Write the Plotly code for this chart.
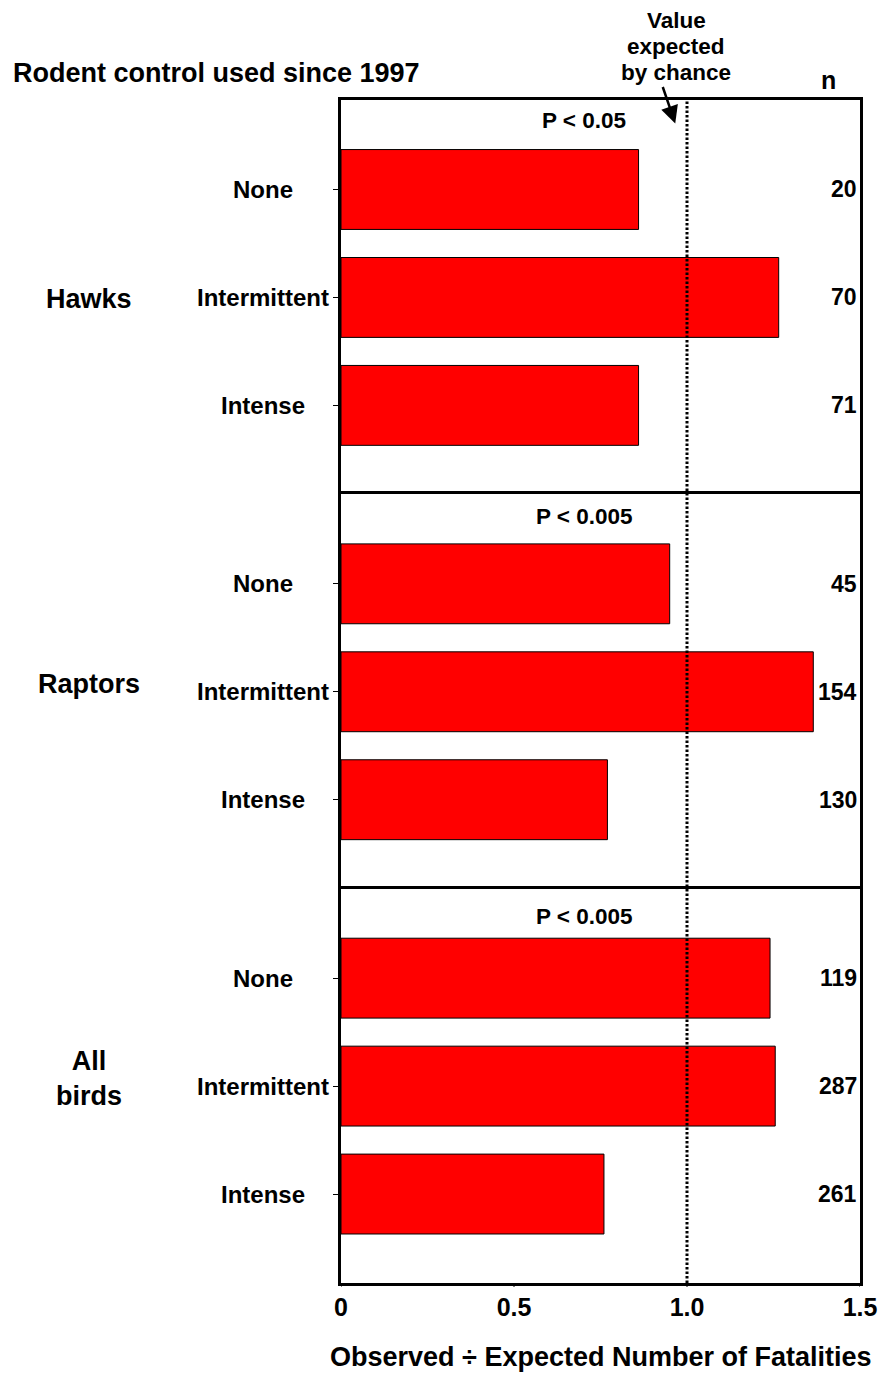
import plotly.graph_objects as go
from plotly.subplots import make_subplots

categories = ["None", "Intermittent", "Intense"]
groups = ["Hawks", "Raptors", "All<br>birds"]
p_labels = ["P < 0.05", "P < 0.005", "P < 0.005"]
hawks_ratio = [0.86, 1.265, 0.86]
raptors_ratio = [0.95, 1.365, 0.77]
allbirds_ratio = [1.24, 1.255, 0.76]
hawks_n = [20, 70, 71]
raptors_n = [45, 154, 130]
allbirds_n = [119, 287, 261]
x_tickvals = [0, 0.5, 1.0, 1.5]
x_ticktext = ["0", "0.5", "1.0", "1.5"]
expected_value = 1.0

values = [hawks_ratio, raptors_ratio, allbirds_ratio]
ns = [hawks_n, raptors_n, allbirds_n]

FONT = "Liberation Sans, Arial, sans-serif"
OFF = 8  # page body margin
W, H = 889 - OFF, 1373 - OFF
L, T = 340.5 - OFF, 99.5 - OFF
R = W - (863 - OFF)
B = H - (1283 - OFF)
pw = W - L - R
ph = H - T - B


def px_x(page_px):
    return (page_px - OFF - L) / pw


def px_y(page_py):
    return (H - B - (page_py - OFF)) / ph


def bold(size):
    return dict(family=FONT, size=size, color="black", weight="bold")


fig = make_subplots(rows=3, cols=1, shared_xaxes=True, vertical_spacing=0)

p_offsets = [21, 22, 28]
group_yshift = [-2, 8, 8]
for i in range(3):
    row = i + 1
    fig.add_trace(go.Bar(
        x=values[i], y=categories, orientation="h",
        marker=dict(color="#FF0000", line=dict(color="black", width=1)),
        width=0.74, showlegend=False, hoverinfo="x+y"
    ), row=row, col=1)
    yref = "y" if i == 0 else f"y{row}"
    fig.update_yaxes(
        row=row, col=1, type="category", range=[2.824, -0.829],
        showticklabels=False, ticks="outside", ticklen=5, tickwidth=1,
        tickcolor="black", showline=True, linecolor="black", linewidth=3,
        mirror=True, showgrid=False, zeroline=False
    )
    for j, c in enumerate(categories):
        fig.add_annotation(x=px_x(262), xref="paper", y=c, yref=yref,
                           text=c, showarrow=False, xanchor="center",
                           font=bold(24))
        fig.add_annotation(x=px_x(862), xref="paper", y=c, yref=yref,
                           text=str(ns[i][j]), showarrow=False, xanchor="right",
                           font=bold(23))
    fig.add_annotation(x=px_x(87), xref="paper", y=categories[1], yref=yref,
                       text=groups[i], showarrow=False, xanchor="center",
                       yshift=group_yshift[i], font=bold(27))
    fig.add_annotation(x=px_x(585.5), xref="paper",
                       y=1 - p_offsets[i] / (ph / 3), yref=f"{yref} domain",
                       text=p_labels[i], showarrow=False, xanchor="center",
                       yanchor="middle", font=bold(22.5))

fig.update_xaxes(range=[0, 1.5], showgrid=False, zeroline=False, showline=True,
                 linecolor="black", linewidth=3,
                 tickvals=x_tickvals, ticktext=x_ticktext)
# one line per panel boundary: upper panels draw only their top edge
fig.update_xaxes(row=1, col=1, side="top", mirror=False, ticks="", showticklabels=False)
fig.update_xaxes(row=2, col=1, side="top", mirror=False, ticks="", showticklabels=False)
fig.update_xaxes(row=3, col=1, side="bottom", mirror=True, ticks="", tickfont=bold(25))

# small outward tick marks on the bottom axis, at the tick values
for tv in x_tickvals:
    fig.add_shape(type="line", xref="x3", yref="paper", x0=tv, x1=tv,
                  y0=0, y1=-4 / ph, line=dict(color="black", width=1))

fig.add_annotation(x=px_x(602), xref="paper", y=px_y(1357), yref="paper",
                   text="Observed ÷ Expected Number of Fatalities", showarrow=False,
                   xanchor="center", yanchor="middle", font=bold(27))

fig.add_shape(type="line", xref="x", yref="paper", x0=expected_value, x1=expected_value,
              y0=0, y1=1, line=dict(color="black", width=3, dash="2.5px,2px"))

fig.add_annotation(x=px_x(8), xref="paper", y=px_y(72), yref="paper",
                   text="Rodent control used since 1997", showarrow=False,
                   xanchor="left", yanchor="middle", font=bold(27))
fig.add_annotation(x=px_x(831), xref="paper", y=px_y(79), yref="paper",
                   text="n", showarrow=False, xanchor="center", yanchor="middle",
                   font=bold(25))
for line, py in zip(["Value", "expected", "by chance"], [20, 46, 72]):
    fig.add_annotation(x=px_x(678), xref="paper", y=px_y(py), yref="paper",
                       text=line, showarrow=False, xanchor="center", yanchor="middle",
                       font=bold(22.5))
fig.add_annotation(x=px_x(677), xref="paper", y=px_y(123), yref="paper",
                   text="", showarrow=True, ax=-13, ay=-38, arrowhead=2,
                   arrowsize=1.4, arrowwidth=2.5, arrowcolor="black")

fig.update_layout(
    width=W, height=H, margin=dict(l=L, r=R, t=T, b=B),
    plot_bgcolor="white", paper_bgcolor="white",
    font=dict(family=FONT, color="black")
)

fig.write_html("out.html")
